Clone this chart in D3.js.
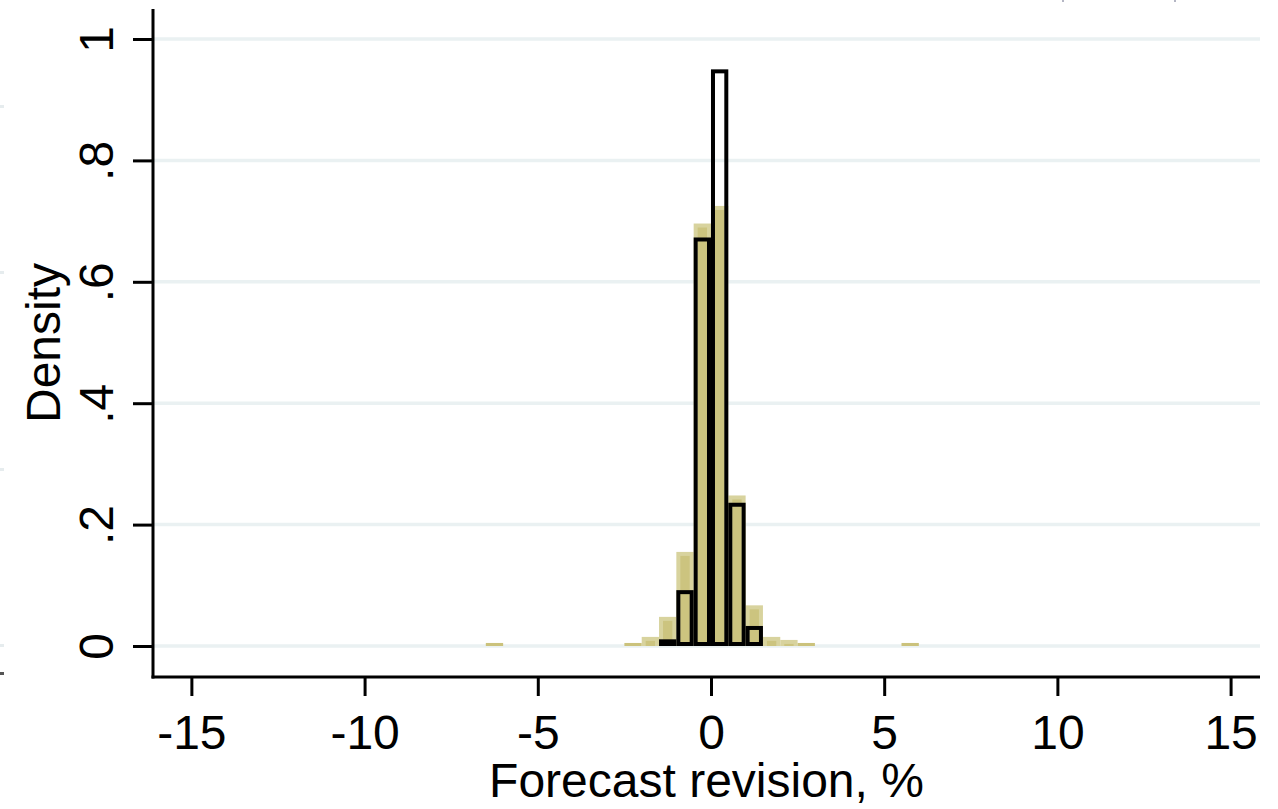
<!DOCTYPE html>
<meta charset="utf-8">
<title>Forecast revision histogram</title>
<script src="https://d3js.org/d3.v7.min.js"></script>
<style>
  body { margin: 0; background: #fff; }
  text { font-family: "Liberation Sans", Arial, Helvetica, sans-serif; fill: #000; }
</style>
<body>
<svg width="1278" height="809"></svg>
<script>
  // histogram data, bin width .5 (left edges + density)
  var binWidth = 0.5;
  var tanLeft = [-6.5, -2.5, -2, -1.5, -1, -0.5, 0, 0.5, 1, 1.5, 2, 2.5, 5.5];
  var tanDensity = [0.005, 0.005, 0.015, 0.048, 0.155, 0.696, 0.725, 0.248, 0.067, 0.015, 0.010, 0.005, 0.005];
  var outlineLeft = [-1.5, -1, -0.5, 0, 0.5, 1];
  var outlineDensity = [0.011, 0.092, 0.673, 0.950, 0.236, 0.033];

  var xTicks = [-15, -10, -5, 0, 5, 10, 15];
  var yTicks = [0, 0.2, 0.4, 0.6, 0.8, 1];
  var yTickLabels = ["0", ".2", ".4", ".6", ".8", "1"];

  var svg = d3.select("svg");
  var plotLeft = 153, plotRight = 1260, plotTop = 9, plotBottom = 677;

  var x = d3.scaleLinear().domain([-16.108, 15.849]).range([plotLeft, plotRight]);
  var y = d3.scaleLinear().domain([0, 1]).range([646, 39]);

  // faint bits of the neighbouring panels at the image edges
  var edge = svg.append("g");
  [106, 272, 469, 645].forEach(function (yy) {
    edge.append("rect").attr("x", 0).attr("y", yy - 1).attr("width", 4).attr("height", 3).attr("fill", "#e6ecee");
  });
  edge.append("rect").attr("x", 0).attr("y", 672).attr("width", 4).attr("height", 3).attr("fill", "#555");
  [1062, 1174].forEach(function (xx) {
    edge.append("rect").attr("x", xx).attr("y", 0).attr("width", 2).attr("height", 2).attr("fill", "#b4b6c4");
  });

  // grid
  svg.append("g")
    .selectAll("line")
    .data(yTicks)
    .enter().append("line")
    .attr("x1", plotLeft).attr("x2", plotRight)
    .attr("y1", function (d) { return y(d); })
    .attr("y2", function (d) { return y(d); })
    .attr("stroke", "#eaf1f2")
    .attr("stroke-width", 3.5);

  // filled histogram
  var tan = tanLeft.map(function (l, i) { return { l: l, v: tanDensity[i] }; });
  var tg = svg.append("g");
  tan.forEach(function (d) {
    var x0 = x(d.l), x1 = x(d.l + binWidth), y0 = y(d.v), h = y(0) - y0;
    if (h > 5) {
      tg.append("rect").attr("x", x0).attr("y", y0).attr("width", x1 - x0).attr("height", h).attr("fill", "#d8d39e");
      tg.append("rect").attr("x", x0 + 4).attr("y", y0 + 4).attr("width", x1 - x0 - 8).attr("height", Math.max(0, h - 4)).attr("fill", "#ccc47f");
    } else {
      tg.append("rect").attr("x", x0).attr("y", y0).attr("width", x1 - x0).attr("height", h).attr("fill", "#cbc27c");
    }
  });

  // outlined histogram, stroke kept inside the bin
  var out = outlineLeft.map(function (l, i) { return { l: l, v: outlineDensity[i] }; });
  svg.append("g")
    .selectAll("rect")
    .data(out)
    .enter().append("rect")
    .attr("x", function (d) { return x(d.l) + 2; })
    .attr("y", function (d) { return y(d.v) + 2; })
    .attr("width", function (d) { return x(d.l + binWidth) - x(d.l) - 4; })
    .attr("height", function (d) { return Math.max(0.5, y(0) - y(d.v) - 4); })
    .attr("fill", "none")
    .attr("stroke", "#000")
    .attr("stroke-width", 4);

  // axes
  var xAxis = d3.axisBottom(x).tickValues(xTicks).tickSize(19).tickFormat(function (d) { return String(d); });
  var gx = svg.append("g").attr("transform", "translate(0," + plotBottom + ")").call(xAxis);
  gx.select(".domain").remove();
  gx.selectAll(".tick line").attr("stroke", "#000").attr("stroke-width", 3);
  gx.selectAll(".tick text").attr("font-size", 48).attr("dy", null).attr("y", 72)
    .attr("font-family", "Liberation Sans, Arial, sans-serif");

  var yAxis = d3.axisLeft(y).tickValues(yTicks).tickSize(20).tickFormat(function (d, i) { return yTickLabels[i]; });
  var gy = svg.append("g").attr("transform", "translate(" + plotLeft + ",0)").call(yAxis);
  gy.select(".domain").remove();
  gy.selectAll(".tick line").attr("stroke", "#000").attr("stroke-width", 3);
  gy.selectAll(".tick text")
    .attr("font-size", 48)
    .attr("font-family", "Liberation Sans, Arial, sans-serif")
    .attr("x", null).attr("dy", null)
    .attr("text-anchor", "middle")
    .attr("transform", "translate(-40,0) rotate(-90)");

  svg.append("line").attr("x1", plotLeft).attr("x2", plotLeft).attr("y1", plotTop).attr("y2", plotBottom + 1.5)
    .attr("stroke", "#000").attr("stroke-width", 3);
  svg.append("line").attr("x1", plotLeft - 1.5).attr("x2", plotRight).attr("y1", plotBottom).attr("y2", plotBottom)
    .attr("stroke", "#000").attr("stroke-width", 3);

  // titles
  svg.append("text")
    .attr("x", (plotLeft + plotRight) / 2).attr("y", 797)
    .attr("text-anchor", "middle").attr("font-size", 48)
    .text("Forecast revision, %");

  svg.append("text")
    .attr("transform", "translate(60," + (plotTop + plotBottom) / 2 + ") rotate(-90)")
    .attr("text-anchor", "middle").attr("font-size", 48)
    .text("Density");
</script>
</body>
